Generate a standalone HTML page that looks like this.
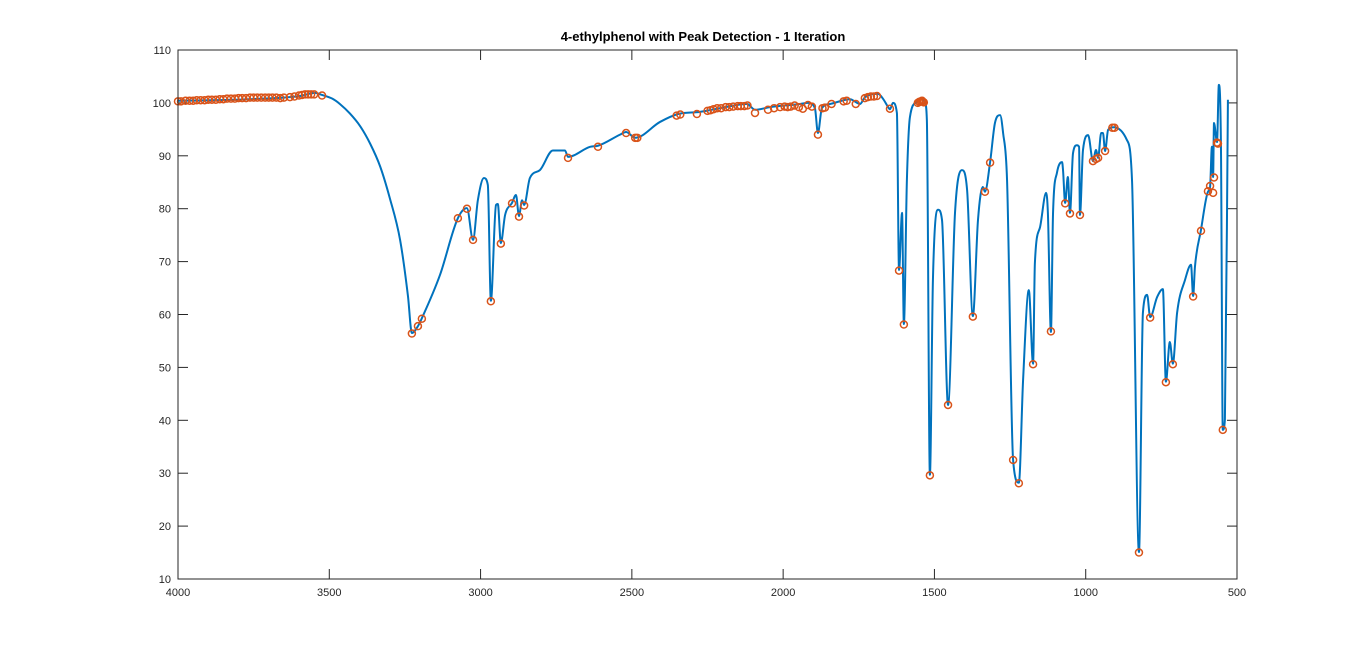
<!DOCTYPE html>
<html><head><meta charset="utf-8"><style>
body{margin:0;background:#fff;}
svg{display:block;font-family:"Liberation Sans",Arial,sans-serif;}
</style></head><body>
<svg id="chart" width="1366" height="651">
<rect x="0" y="0" width="1366" height="651" fill="#fff"/>
<rect x="178" y="50" width="1059" height="529" fill="#fff"/>
<text x="703" y="41" text-anchor="middle" font-size="13" font-weight="bold" fill="#000">4-ethylphenol with Peak Detection - 1 Iteration</text>
<g id="grid"></g>
<g id="series"></g>
<g id="marks"></g>
<rect x="178" y="50" width="1059" height="529" fill="none" stroke="#262626" stroke-width="1"/>
</svg>
<script>
const xTicks=[4000,3500,3000,2500,2000,1500,1000,500];
const yTicks=[10,20,30,40,50,60,70,80,90,100,110];
const wavenumbers=[4000,3762,3597,3547,3524,3490,3465,3432,3398,3365,3332,3300,3266,3240,3227,3207,3194,3134,3075,3045,3025,3009,2989,2976,2966,2949,2943,2933,2919,2896,2883,2873,2863,2856,2837,2804,2761,2721,2711,2638,2612,2539,2519,2489,2407,2347,2275,2209,2119,2093,2043,1944,1918,1895,1885,1872,1845,1779,1746,1729,1686,1669,1653,1647,1637,1624,1617,1607,1601,1591,1581,1558,1541,1531,1525,1515,1505,1488,1475,1455,1432,1409,1392,1373,1356,1340,1333,1316,1300,1283,1273,1260,1240,1221,1207,1188,1174,1168,1151,1131,1125,1115,1108,1095,1078,1075,1068,1059,1052,1042,1029,1022,1019,1009,992,976,966,959,949,943,936,926,907,864,847,824,811,797,787,764,745,735,722,712,698,672,652,645,639,619,596,589,583,579,576,566,560,553,547,540,530];
const transmittance=[100.4,100.7,101.3,101.9,101.5,100.8,99.8,98.0,95.6,92.3,88.0,82.0,74.1,63.5,56.5,57.8,59.3,67.5,78.2,80.1,74.1,81.6,85.8,84.5,62.6,80.7,80.9,73.5,78.8,81.1,82.6,78.6,81.6,80.7,85.8,87.3,91.0,91.0,89.8,91.7,91.9,94.0,94.5,93.4,96.4,97.9,98.3,99.0,99.8,98.7,99.2,99.8,100.0,99.0,94.3,99.0,99.8,100.7,99.8,101.1,101.7,100.7,99.2,98.8,100.0,98.1,68.4,79.2,58.2,85.4,97.3,100.2,100.9,100.0,96.8,29.7,66.5,79.8,77.9,42.9,79.2,87.3,83.5,59.7,77.9,84.1,83.2,88.8,96.2,97.7,94.3,85.4,32.5,28.2,47.6,64.6,50.7,69.7,76.5,83.0,79.2,56.7,79.2,86.8,88.8,87.3,81.1,86.0,79.2,90.5,92.0,91.7,78.8,91.1,93.9,89.0,91.1,89.6,94.3,94.3,90.9,94.9,95.4,93.0,85.4,15.1,60.3,63.7,59.5,63.3,64.8,47.3,54.8,50.7,60.3,66.5,69.4,63.5,69.0,76.0,83.2,84.1,91.7,86.0,96.2,92.6,103.4,91.7,38.2,40.1,100.6];
const peakWn=[4000,3990,3975,3962,3950,3938,3925,3912,3900,3888,3875,3862,3850,3838,3825,3812,3800,3788,3775,3762,3750,3738,3725,3712,3700,3688,3675,3662,3650,3630,3615,3600,3590,3580,3570,3560,3550,3524,3227,3207,3194,3075,3045,3025,2966,2933,2896,2873,2856,2711,2612,2519,2489,2482,2352,2340,2285,2250,2240,2230,2218,2205,2190,2178,2165,2150,2140,2128,2118,2093,2050,2030,2010,1995,1985,1975,1962,1948,1935,1918,1905,1885,1870,1862,1840,1800,1790,1760,1730,1720,1710,1700,1690,1647,1617,1601,1555,1550,1545,1541,1538,1535,1515,1455,1373,1333,1316,1240,1221,1174,1115,1068,1052,1019,976,966,959,936,912,905,824,787,735,712,645,619,596,589,579,576,566,563,547];
const peakT=[100.3,100.3,100.4,100.4,100.4,100.5,100.5,100.5,100.6,100.6,100.6,100.7,100.7,100.8,100.8,100.8,100.9,100.9,100.9,101.0,101.0,101.0,101.0,101.0,101.0,101.0,101.0,100.9,101.0,101.1,101.2,101.4,101.5,101.6,101.6,101.6,101.6,101.4,56.4,57.8,59.2,78.2,80.0,74.1,62.5,73.4,81.0,78.5,80.6,89.6,91.7,94.3,93.4,93.4,97.6,97.8,97.9,98.5,98.6,98.8,99.0,99.0,99.2,99.2,99.3,99.4,99.4,99.4,99.5,98.1,98.7,99.0,99.2,99.3,99.2,99.3,99.5,99.2,98.9,99.6,99.3,94.0,99.0,99.1,99.8,100.3,100.4,99.8,100.9,101.1,101.2,101.2,101.3,98.9,68.3,58.1,100.0,100.2,100.3,100.4,100.2,100.1,29.6,42.9,59.6,83.2,88.7,32.5,28.1,50.6,56.8,81.0,79.1,78.8,89.0,89.4,89.6,90.9,95.3,95.3,15.0,59.4,47.2,50.6,63.4,75.8,83.3,84.3,83.0,85.9,92.5,92.3,38.2];
const X0=178,X1=1237,Y0=579,Y1=50;
function xs(w){return X0+(4000-w)/(4000-500)*(X1-X0);}
function ys(t){return Y0-(t-10)/(110-10)*(Y0-Y1);}
const NS='http://www.w3.org/2000/svg';
const grid=document.getElementById('grid');
xTicks.forEach(v=>{
 const x=xs(v);
 const l=document.createElementNS(NS,'line');
 l.setAttribute('x1',x);l.setAttribute('x2',x);l.setAttribute('y1',Y0);l.setAttribute('y2',Y0-10);
 l.setAttribute('stroke','#262626');
 
 
 grid.appendChild(l);
 const l2=document.createElementNS(NS,'line');
 l2.setAttribute('x1',x);l2.setAttribute('x2',x);l2.setAttribute('y1',Y1);l2.setAttribute('y2',Y1+10);
 l2.setAttribute('stroke','#262626');
 
 
 grid.appendChild(l2);
 const t=document.createElementNS(NS,'text');
 t.setAttribute('x',x);t.setAttribute('y',Y0+17);t.setAttribute('text-anchor','middle');
 t.setAttribute('font-size','11');t.setAttribute('fill','#262626');
 
 
 t.textContent=v;grid.appendChild(t);
});
yTicks.forEach(v=>{
 const y=ys(v);
 const l=document.createElementNS(NS,'line');
 l.setAttribute('x1',X0);l.setAttribute('x2',X0+10);l.setAttribute('y1',y);l.setAttribute('y2',y);
 l.setAttribute('stroke','#262626');
 
 
 grid.appendChild(l);
 const l2=document.createElementNS(NS,'line');
 l2.setAttribute('x1',X1);l2.setAttribute('x2',X1-10);l2.setAttribute('y1',y);l2.setAttribute('y2',y);
 l2.setAttribute('stroke','#262626');
 
 
 grid.appendChild(l2);
 const t=document.createElementNS(NS,'text');
 t.setAttribute('x',X0-7);t.setAttribute('y',y+4);t.setAttribute('text-anchor','end');
 t.setAttribute('font-size','11');t.setAttribute('fill','#262626');
 
 
 t.textContent=v;grid.appendChild(t);
});
// monotone cubic path through points
function monotonePath(px,py){
 const n=px.length,d=[],m=new Array(n);
 for(let i=0;i<n-1;i++)d.push((py[i+1]-py[i])/(px[i+1]-px[i]));
 m[0]=d[0];m[n-1]=d[n-2];
 for(let i=1;i<n-1;i++){m[i]=(d[i-1]*d[i]<=0)?0:(d[i-1]+d[i])/2;}
 for(let i=0;i<n-1;i++){
  if(d[i]===0){m[i]=0;m[i+1]=0;continue;}
  const a=m[i]/d[i],b=m[i+1]/d[i],s=a*a+b*b;
  if(s>9){const t=3/Math.sqrt(s);m[i]=t*a*d[i];m[i+1]=t*b*d[i];}
 }
 let s='M'+px[0].toFixed(1)+','+py[0].toFixed(1);
 for(let i=0;i<n-1;i++){
  const h=(px[i+1]-px[i])/3;
  s+=' C'+(px[i]+h).toFixed(2)+','+(py[i]+m[i]*h).toFixed(2)+' '+(px[i+1]-h).toFixed(2)+','+(py[i+1]-m[i+1]*h).toFixed(2)+' '+px[i+1].toFixed(2)+','+py[i+1].toFixed(2);
 }
 return s;
}
const series=document.getElementById('series');
const p=document.createElementNS(NS,'path');
p.setAttribute('d',monotonePath(wavenumbers.map(xs),transmittance.map(ys)));
p.setAttribute('fill','none');p.setAttribute('stroke','#0072BD');p.setAttribute('stroke-width','2');
p.setAttribute('stroke-linejoin','round');


series.appendChild(p);
const marks=document.getElementById('marks');
peakWn.forEach((w,i)=>{
 const c=document.createElementNS(NS,'circle');
 c.setAttribute('cx',xs(w));c.setAttribute('cy',ys(peakT[i]));c.setAttribute('r','3.5');
 c.setAttribute('fill','none');c.setAttribute('stroke','#D95319');c.setAttribute('stroke-width','1.5');
 
 
 marks.appendChild(c);
});
</script>
</body></html>
